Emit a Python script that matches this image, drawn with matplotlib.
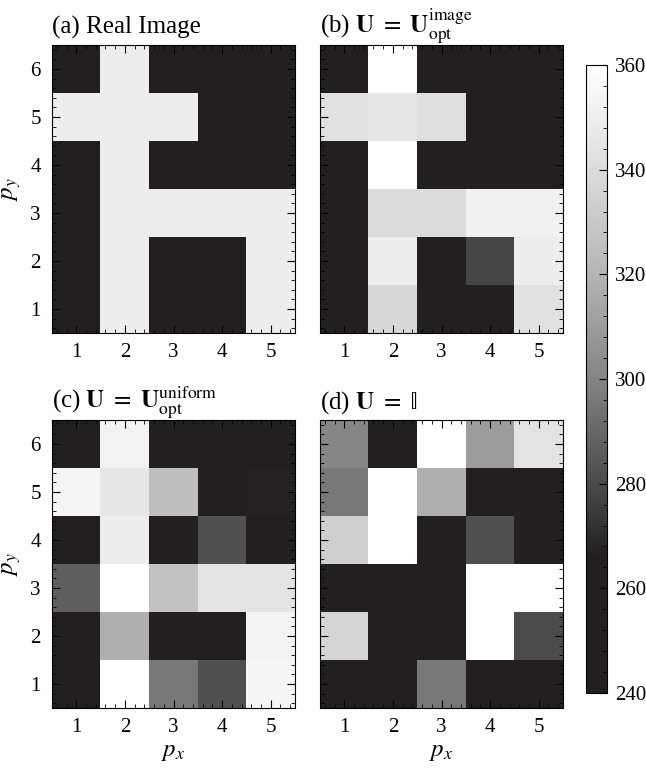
import numpy as np
import matplotlib
matplotlib.use('Agg')
import matplotlib.pyplot as plt
from matplotlib.colors import LinearSegmentedColormap
from matplotlib.ticker import MultipleLocator

plt.rcParams['font.family'] = ['Liberation Serif', 'DejaVu Serif']
plt.rcParams['mathtext.fontset'] = 'stix'

# cell values, rows listed from p_y = 1 (bottom) to p_y = 6 (top), columns p_x = 1..5
real_image = [[250, 350, 250, 250, 350],
              [250, 350, 250, 250, 350],
              [250, 350, 350, 350, 350],
              [250, 350, 250, 250, 250],
              [350, 350, 350, 250, 250],
              [250, 350, 250, 250, 250]]
u_image = [[250, 338, 250, 250, 343],
           [250, 350, 250, 278, 350],
           [250, 340, 340, 352, 352],
           [250, 360, 250, 250, 250],
           [343, 345, 342, 250, 250],
           [250, 360, 250, 250, 250]]
u_uniform = [[250, 360, 296, 282, 354],
             [250, 318, 250, 250, 353],
             [287, 360, 327, 344, 344],
             [250, 350, 250, 282, 250],
             [354, 346, 325, 250, 267],
             [250, 353, 250, 250, 250]]
u_identity = [[250, 250, 296, 250, 250],
              [337, 250, 250, 360, 280],
              [250, 266, 250, 360, 360],
              [333, 360, 250, 282, 250],
              [296, 360, 318, 250, 250],
              [301, 250, 360, 310, 344]]

titles = ['(a) Real Image',
          r'(b) $\mathbf{U}\ =\ \mathbf{U}_{\rm opt}^{\rm image}$',
          r'(c) $\mathbf{U}\ =\ \mathbf{U}_{\rm opt}^{\rm uniform}$',
          r'(d) $\mathbf{U}\ =\ \mathrm{\mathbb{I}}$']
panels = [real_image, u_image, u_uniform, u_identity]

vmin, vmax = 240, 360
cmap = LinearSegmentedColormap.from_list('dk', [
    (0.0, '#231f20'), ((266 - vmin) / 120, '#231f20'),
    ((280 - vmin) / 120, '#4b4b4b'), ((300 - vmin) / 120, '#848484'),
    ((320 - vmin) / 120, '#b4b4b4'), ((340 - vmin) / 120, '#dcdcdc'),
    (1.0, '#ffffff')])

W, H = 646, 771
fig = plt.figure(figsize=(W / 100, H / 100), dpi=100)

boxes = [(52, 45), (320, 45), (52, 420), (320, 420)]
aw, ah = 243, 288

for i, (data, title, (x0, y0)) in enumerate(zip(panels, titles, boxes)):
    ax = fig.add_axes([x0 / W, 1 - (y0 + ah) / H, aw / W, ah / H])
    im = ax.imshow(np.array(data), cmap=cmap, vmin=vmin, vmax=vmax,
                   origin='lower', extent=[0.5, 5.5, 0.5, 6.5],
                   aspect='auto', interpolation='nearest')
    ax.set_xticks([1, 2, 3, 4, 5])
    ax.set_yticks([1, 2, 3, 4, 5, 6])
    ax.xaxis.set_minor_locator(MultipleLocator(0.2))
    ax.yaxis.set_minor_locator(MultipleLocator(0.2))
    ax.tick_params(which='both', direction='in', top=True, right=True,
                   labelsize=15)
    ax.tick_params(axis='x', pad=7)
    ax.tick_params(axis='y', pad=8)
    ax.tick_params(which='major', length=6)
    ax.tick_params(which='minor', length=3)
    if i % 2 == 1:
        ax.set_yticklabels([])
    else:
        ax.set_ylabel(r'$p_y$', fontsize=18, labelpad=5)
    if i >= 2:
        ax.set_xlabel(r'$p_x$', fontsize=18, labelpad=3)
    ax.set_title(title, fontsize=18, loc='left', pad=8)

cax = fig.add_axes([586 / W, 1 - 693 / H, 21 / W, (693 - 65) / H])
cb = fig.colorbar(im, cax=cax)
cb.set_ticks([240, 260, 280, 300, 320, 340, 360])
cax.yaxis.set_minor_locator(MultipleLocator(4))
cax.tick_params(which='both', direction='in', labelsize=15, pad=6)
cax.tick_params(which='major', length=6)
cax.tick_params(which='minor', length=3)

fig.savefig('out.png', dpi=100)
